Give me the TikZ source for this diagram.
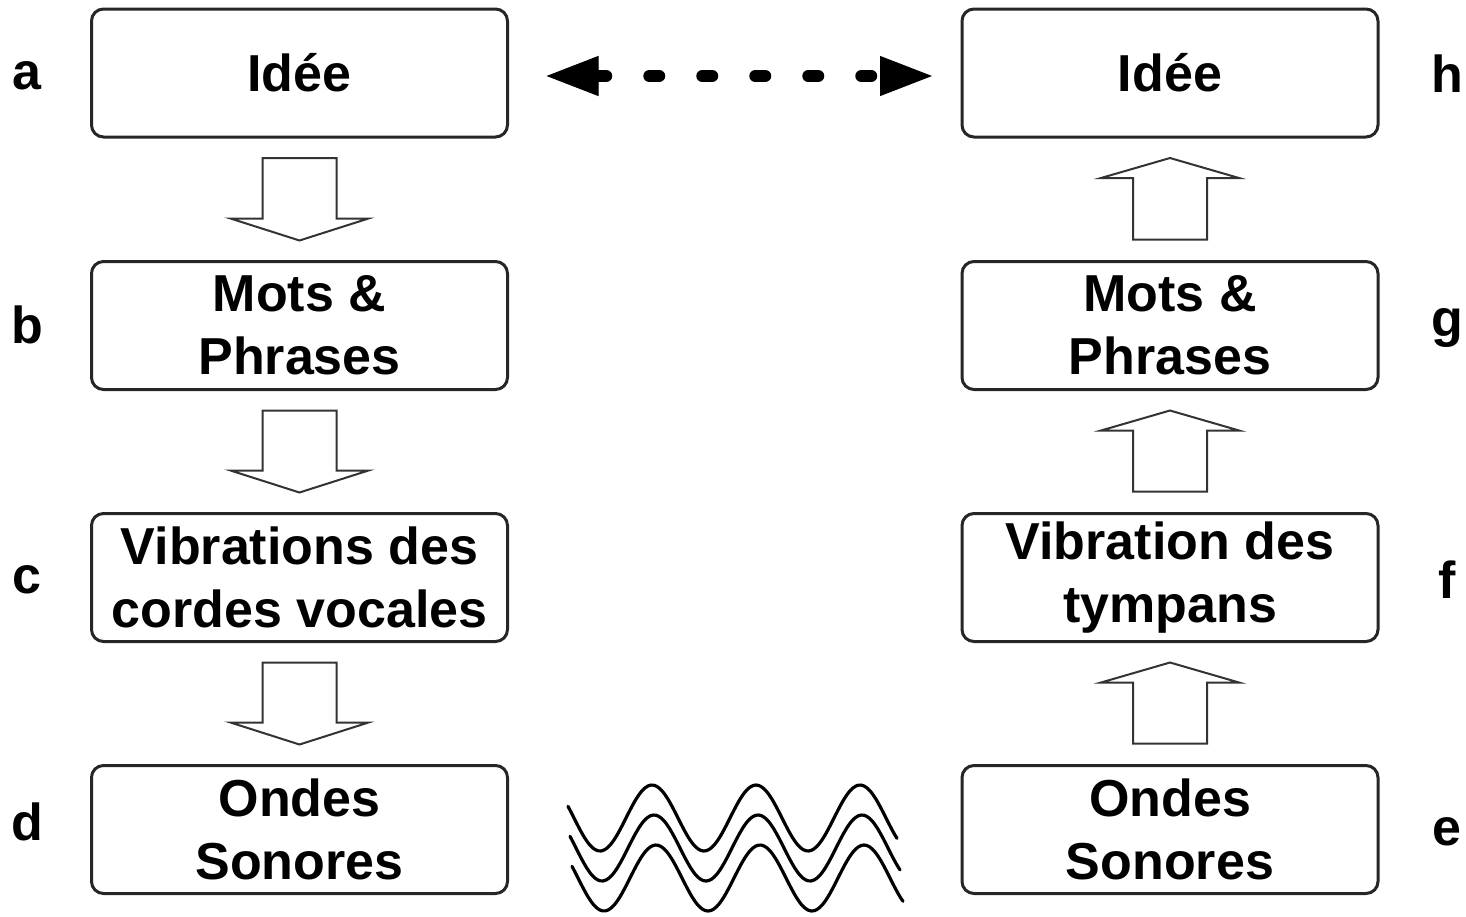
\documentclass[tikz,border=0pt]{standalone}
\usepackage{fontspec}
\setmainfont{Liberation Sans}
\usetikzlibrary{arrows.meta,calc}
\begin{document}
\begin{tikzpicture}[x=0.5pt,y=-0.5pt,
  stage/.style={draw=black!85, line width=1.5pt, rounded corners=6pt,
    minimum width=208pt, minimum height=64pt, inner sep=0pt, outer sep=0pt,
    align=center, font=\fontsize{26}{31.5}\selectfont\bfseries},
  tag/.style={font=\fontsize{26}{31.5}\selectfont\bfseries, inner sep=0pt},
  blockarrow/.style={draw=black!80, line width=1pt, fill=white, line join=miter},
  wave/.style={line width=1.6pt, line cap=round},
  link/.style={line width=6pt, line cap=round, dash pattern=on 5pt off 21.5pt,
    dash phase=1pt}]
\useasboundingbox (0,0) rectangle (1466,916);

% speaker side
\node[stage] (a) at (299.5,73)  {Idée};
\node[stage] (b) at (299.5,325.5) {Mots \&\\Phrases};
\node[stage] (c) at (299.5,577.5) {Vibrations des\\cordes vocales};
\node[stage] (d) at (299.5,829.5) {Ondes\\Sonores};

% listener side
\node[stage] (h) at (1170,73)  {Idée};
\node[stage] (g) at (1170,325.5) {Mots \&\\Phrases};
\node[stage] (f) at (1170,577.5) {Vibration des\\tympans};
\node[stage] (e) at (1170,829.5) {Ondes\\Sonores};

% letters
\node[tag] (la) at (27,76) {a};
\node[tag] (lb) at (27,325) {b};
\node[tag] (lc) at (27,580) {c};
\node[tag] (ld) at (27,822) {d};
\node[tag] (lh) at (1447,74) {h};
\node[tag] (lg) at (1447,328) {g};
\node[tag] (lf) at (1447,580) {f};
\node[tag] (le) at (1447,832) {e};

% hollow arrows going down
\foreach \s/\t in {a/b,b/c,c/d}{
  \draw[blockarrow] ($(\s.south)+(-37,21)$) -- ++(74,0)
    -- ($(\t.north)+(37,-43)$) -- ++(32,0) -- ($(\t.north)+(0,-21)$)
    -- ($(\t.north)+(-69,-43)$) -- ++(32,0) -- cycle;
}

% hollow arrows going up
\foreach \s/\t in {e/f,f/g,g/h}{
  \draw[blockarrow] ($(\s.north)+(-37,-22)$) -- ++(74,0)
    -- ($(\t.south)+(37,41)$) -- ++(32,0) -- ($(\t.south)+(0,21)$)
    -- ($(\t.south)+(-69,41)$) -- ++(32,0) -- cycle;
}

% dotted double arrow between the two ideas
\draw[link, {Triangle[length=26pt,width=20pt,line width=0.5pt]}-{Triangle[length=26pt,width=20pt,line width=0.5pt]},
  shorten <=19.5pt, shorten >=15pt]
  ($(a.east)+(0,3)$) -- ($(h.west)+(0,3)$);

% sound waves
\foreach \k in {0,1,2}{
  \pgfmathsetmacro\ws{568+2*\k}
  \pgfmathsetmacro\we{897+3*\k}
  \draw[wave] plot[domain=\ws:\we, samples=120, smooth]
    (\x, {818+30*\k+33*sin((\x-574-2*\k)/104*360)});
}
\end{tikzpicture}
\end{document}
